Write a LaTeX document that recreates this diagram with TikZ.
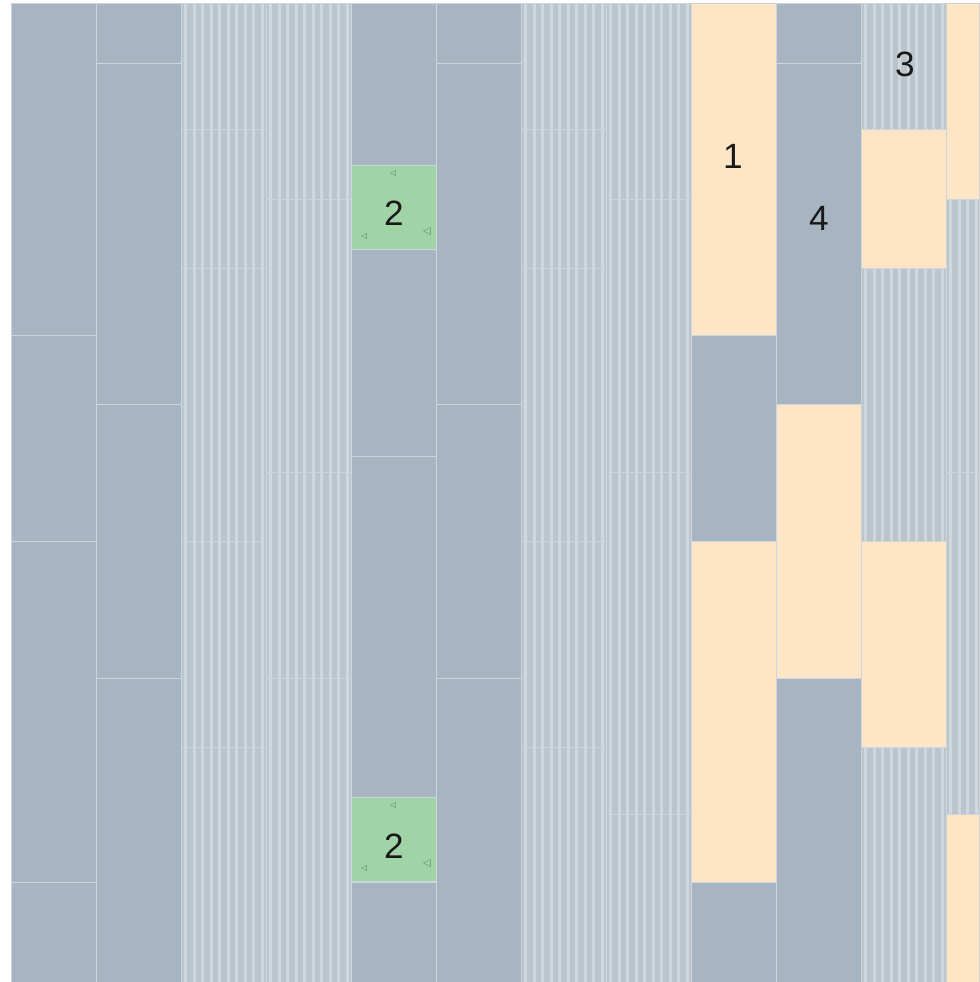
\documentclass[tikz,border=0pt]{standalone}
\usepackage{fontspec}
\setmainfont{Liberation Sans}
\usetikzlibrary{positioning}
\definecolor{slab}{HTML}{A7B5C3}
\definecolor{rib}{HTML}{BBC5CE}
\definecolor{ribline}{HTML}{D0D8DE}
\definecolor{sand}{HTML}{FDE5C6}
\definecolor{pad}{HTML}{A0D3A6}
\definecolor{padmark}{HTML}{6FAA7A}
\definecolor{seam}{HTML}{CDD4DA}

\begin{document}
\begin{tikzpicture}[x=0.02cm,y=-0.02cm,
  seamline/.style={draw=seam,line width=0.5pt},
  num/.style={font=\fontsize{20}{24}\selectfont,text=black!90,inner sep=0pt}]
  \useasboundingbox[fill=white] (0,0) rectangle (979,982);
  % plain grey slabs: left x / width / top / bottom
  \foreach \x/\w/\a/\b in {11/85/3/335,11/85/335/541,11/85/541/882,11/85/882/982,
      96/85/3/63,96/85/63/404,96/85/404/678,96/85/678/982,
      351/85/3/165,351/85/249/456,351/85/456/797,351/85/882/982,
      436/85/3/63,436/85/63/404,436/85/404/678,436/85/678/982,
      691/85/335/541,691/85/882/982,
      776/85/3/63,776/85/63/404,776/85/678/982}{
    \fill[slab] (\x,\a) rectangle (\x+\w,\b);
    \draw[seamline] (\x,\a) rectangle (\x+\w,\b);
  }
  % ribbed slabs
  \foreach \x/\w/\n/\a/\b in {181/85/9/3/129,181/85/9/129/268,181/85/9/268/541,181/85/9/541/747,181/85/9/747/982,
      266/85/9/3/199,266/85/9/199/472,266/85/9/472/678,266/85/9/678/982,
      521/85/9/3/129,521/85/9/129/268,521/85/9/268/541,521/85/9/541/747,521/85/9/747/982,
      606/85/9/3/199,606/85/9/199/472,606/85/9/472/814,606/85/9/814/982,
      861/85/9/3/129,861/85/9/268/541,861/85/9/747/982,
      946/33/3/199/472,946/33/3/472/814}{
    \fill[rib] (\x,\a) rectangle (\x+\w,\b);
    \foreach \k in {0,...,\n}
      \fill[ribline] (\x+3+8.5*\k,\a) rectangle (\x+6+8.5*\k,\b);
    \draw[seamline] (\x,\a) rectangle (\x+\w,\b);
  }
  % sand slabs
  \foreach \x/\w/\a/\b in {691/85/3/335,691/85/541/882,776/85/404/678,
      861/85/129/268,861/85/541/747,946/33/3/199,946/33/814/982}{
    \fill[sand] (\x,\a) rectangle (\x+\w,\b);
    \draw[seamline] (\x,\a) rectangle (\x+\w,\b);
  }
  % green pads with their small marks
  \foreach \y in {165,797}{
    \fill[pad] (351,\y) rectangle (436,\y+84);
    \draw[seamline] (351,\y) rectangle (436,\y+84);
    \foreach \dx/\dy/\s in {42/8/2.5,13/71/2.5,76/66/3.5}
      \draw[padmark,line width=0.3pt] (351+\dx+\s,\y+\dy-\s) -- (351+\dx-\s,\y+\dy) -- (351+\dx+\s,\y+\dy+\s) -- cycle;
  }
  \node[num] (n1) at (733,156) {1};
  \node[num] (n4) at (819,218) {4};
  \node[num] (n3) at (905,64) {3};
  \node[num] (n2a) at (394,213) {2};
  \node[num] (n2b) at (394,846) {2};
\end{tikzpicture}
\end{document}
